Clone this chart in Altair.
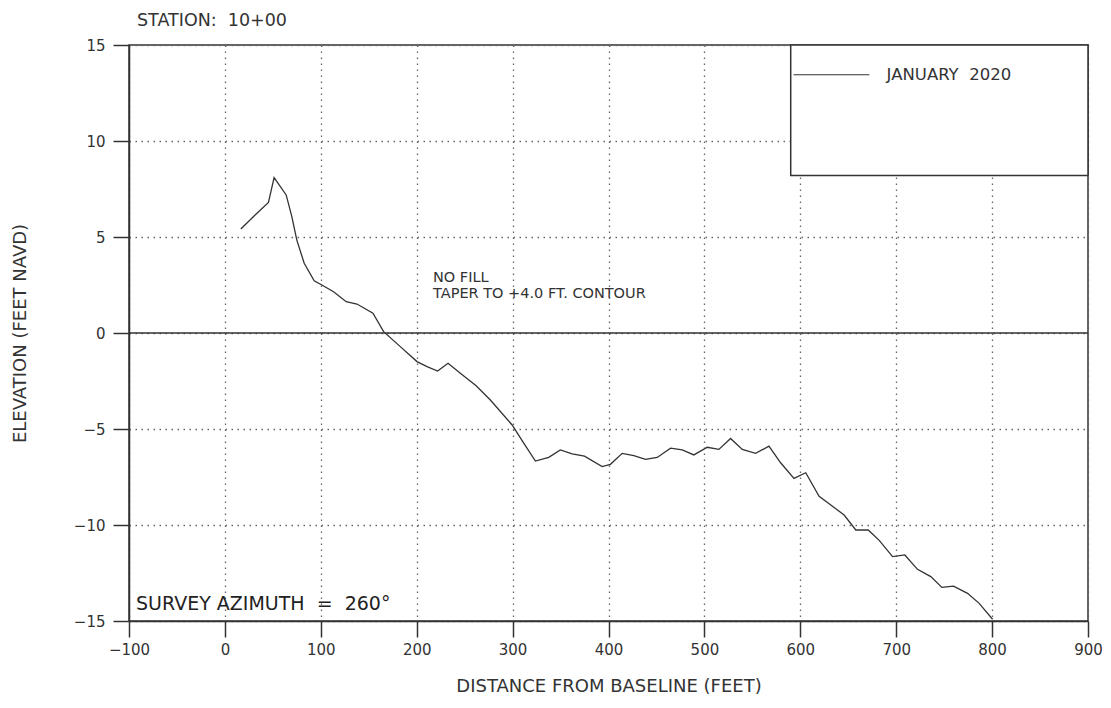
import altair as alt
import pandas as pd

# Profile: distance from baseline (ft) and elevation (ft NAVD)
dist = [16.6, 31.5, 45.4, 51.3, 63.9, 69.8, 75.0, 82.7, 93.1, 101.1, 113.3, 126.5,
        137.7, 154.4, 165.5, 182.9, 200.3, 210.8, 221.8, 232.7, 245.5, 262.0, 276.8,
        299.5, 311.6, 323.8, 337.7, 349.8, 362.1, 374.9, 393.4, 402.0, 414.3, 426.4,
        438.6, 450.8, 464.7, 476.9, 489.0, 503.0, 515.1, 527.3, 539.5, 553.4, 567.3,
        579.5, 593.4, 605.7, 619.6, 631.8, 645.7, 657.9, 670.8, 682.3, 696.2, 709.0,
        722.2, 736.1, 747.6, 759.8, 774.4, 786.5, 800.5]
elev = [5.42, 6.15, 6.80, 8.09, 7.19, 6.06, 4.84, 3.63, 2.72, 2.50, 2.15, 1.63,
        1.51, 1.03, 0.07, -0.71, -1.49, -1.75, -1.98, -1.58, -2.10, -2.75, -3.49,
        -4.79, -5.74, -6.67, -6.48, -6.09, -6.30, -6.41, -6.96, -6.84, -6.27, -6.39,
        -6.58, -6.48, -6.00, -6.09, -6.35, -5.95, -6.06, -5.49, -6.06, -6.27, -5.89,
        -6.76, -7.57, -7.28, -8.50, -8.96, -9.48, -10.26, -10.26, -10.80, -11.65, -11.56,
        -12.31, -12.69, -13.25, -13.18, -13.56, -14.08, -14.91]

x_ticks = list(range(-100, 1000, 100))
y_ticks = [-15, -10, -5, 0, 5, 10, 15]

NB = "\u00a0"
series_name = "JANUARY" + NB + NB + "2020"
title_text = "STATION:" + NB + NB + "10+00"
azimuth_text = "SURVEY" + NB + "AZIMUTH" + NB + NB + "=" + NB + NB + "260°"
note_lines = ["NO FILL", "TAPER TO +4.0 FT. CONTOUR"]
note_x = [217, 217]
note_y = [2.85, 2.05]

# legend box (data coords)
legend_box = {"x": [590], "x2": [900], "y": [8.2], "y2": [15]}
legend_line = {"x": [593], "x2": [672], "y": [13.45]}
legend_label = {"x": [690], "y": [13.45]}

FONT = "DejaVu Sans"
INK = "#333333"

xs = alt.Scale(domain=[-100, 900], nice=False, zero=False)
ys = alt.Scale(domain=[-15, 15], nice=False, zero=False)

prof = pd.DataFrame({"d": dist, "e": elev})

base_axes = alt.Chart(prof).mark_point(opacity=0).encode(
    x=alt.X("d:Q", scale=xs,
            axis=alt.Axis(title="DISTANCE FROM BASELINE (FEET)", values=x_ticks,
                          format="d", grid=True, gridDash=[1.5, 4.5], gridColor="#666",
                          gridWidth=1.3, tickSize=16, tickColor=INK, tickWidth=1.5,
                          domainColor=INK, domainWidth=1.5, labelPadding=5,
                          labelFontSize=15, labelFont=FONT, labelColor=INK,
                          titleFont=FONT, titleFontSize=18, titleFontWeight="normal",
                          titleColor=INK, titlePadding=20, labelFlush=False)),
    y=alt.Y("e:Q", scale=ys,
            axis=alt.Axis(title="ELEVATION (FEET NAVD)", values=y_ticks,
                          format="d", grid=True, gridDash=[1.5, 4.5], gridColor="#666",
                          gridWidth=1.3, tickSize=16, tickColor=INK, tickWidth=1.5,
                          domainColor=INK, domainWidth=1.5, labelPadding=8,
                          labelFontSize=15, labelFont=FONT, labelColor=INK,
                          titleFont=FONT, titleFontSize=18, titleFontWeight="normal",
                          titleColor=INK, titlePadding=44, labelFlush=False)),
)

zero_rule = alt.Chart(pd.DataFrame({"y": [0]})).mark_rule(
    color=INK, strokeWidth=1.5).encode(y=alt.Y("y:Q", scale=ys))

line = alt.Chart(prof).mark_line(color=INK, strokeWidth=1.3).encode(
    x=alt.X("d:Q", scale=xs), y=alt.Y("e:Q", scale=ys), order="d:Q")

box = alt.Chart(pd.DataFrame(legend_box)).mark_rect(
    fill="white", stroke=INK, strokeWidth=1.5).encode(
    x=alt.X("x:Q", scale=xs), x2="x2:Q", y=alt.Y("y:Q", scale=ys), y2="y2:Q")

leg_line = alt.Chart(pd.DataFrame(legend_line)).mark_rule(
    color=INK, strokeWidth=1).encode(
    x=alt.X("x:Q", scale=xs), x2="x2:Q", y=alt.Y("y:Q", scale=ys))

leg_text = alt.Chart(pd.DataFrame({**legend_label, "t": [series_name]})).mark_text(
    align="left", baseline="middle", font=FONT, fontSize=16.5, color=INK).encode(
    x=alt.X("x:Q", scale=xs), y=alt.Y("y:Q", scale=ys), text="t:N")

notes = alt.Chart(pd.DataFrame({"x": note_x, "y": note_y, "t": note_lines})).mark_text(
    align="left", baseline="middle", font=FONT, fontSize=14.5, color=INK).encode(
    x=alt.X("x:Q", scale=xs), y=alt.Y("y:Q", scale=ys), text="t:N")

azimuth = alt.Chart(pd.DataFrame({"t": [azimuth_text]})).mark_text(
    align="left", baseline="middle", font=FONT, fontSize=19, color="#222").encode(
    x=alt.value(7), y=alt.value(559), text="t:N")

station = alt.Chart(pd.DataFrame({"t": [title_text]})).mark_text(
    align="left", baseline="middle", font=FONT, fontSize=17.5, color=INK).encode(
    x=alt.value(8), y=alt.value(-24), text="t:N")

chart = alt.layer(base_axes, zero_rule, line, box, leg_line, leg_text, notes,
                  azimuth, station).properties(
    width=959, height=576,
    autosize=alt.AutoSizeParams(type="none"),
    padding={"left": 121, "top": 37, "right": 14, "bottom": 77},
).configure_view(stroke=INK, strokeWidth=1.5)

chart.save("out.html", embed_options={"renderer": "svg", "actions": False})
